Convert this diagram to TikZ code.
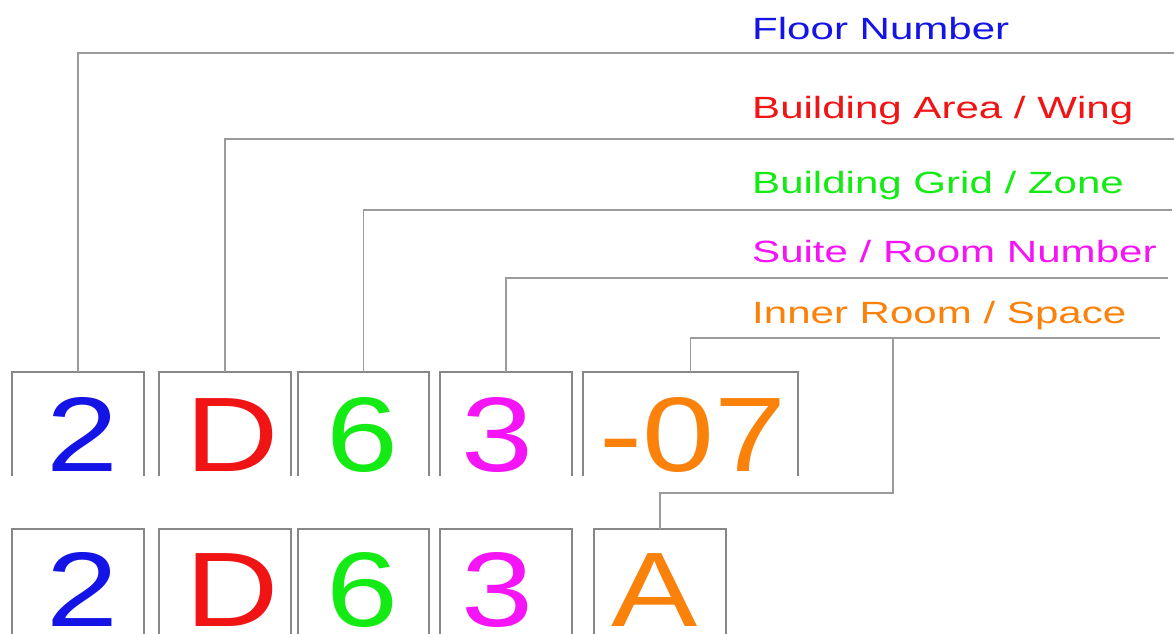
\documentclass[tikz,border=0pt]{standalone}
\usepackage{fontspec}
\setmainfont{Liberation Sans}
\newfontfamily\labfont[FakeStretch=1.37]{Liberation Sans}
\newfontfamily\bigfont[FakeStretch=1.22]{Liberation Sans}
\definecolor{cblue}{RGB}{20,20,230}
\definecolor{cred}{RGB}{240,20,20}
\definecolor{cgreen}{RGB}{20,235,20}
\definecolor{cmag}{RGB}{245,20,245}
\definecolor{corange}{RGB}{250,130,10}
\definecolor{lgray}{RGB}{155,155,155}
\definecolor{bgray}{RGB}{135,135,135}
\tikzset{
  boxnode/.style={draw=none,inner sep=0pt,outer sep=0pt},
  boxline/.style={draw=bgray,line width=1.6pt},
  conn/.style={draw=lgray,line width=1.6pt},
  digit/.style={inner sep=0pt,anchor=base,font=\bigfont\fontsize{106}{110}\selectfont},
  lab/.style={inner sep=0pt,anchor=base west,font=\labfont\fontsize{30.7}{34}\selectfont}
}
\begin{document}
\begin{tikzpicture}[x=1pt,y=-1pt]
\useasboundingbox (0,0) rectangle (1174,633);
\clip (0,0) rectangle (1174,633);
\fill[white] (0,0) rectangle (1174,633);
% top row boxes
\node[boxnode,minimum width=132pt,minimum height=104pt] (b1) at (78,424) {};
\node[boxnode,minimum width=132pt,minimum height=104pt] (b2) at (225,424) {};
\node[boxnode,minimum width=131pt,minimum height=104pt] (b3) at (363.5,424) {};
\node[boxnode,minimum width=132pt,minimum height=104pt] (b4) at (506,424) {};
\node[boxnode,minimum width=215pt,minimum height=104pt] (b5) at (690.5,424) {};
% bottom row boxes
\node[boxnode,minimum width=132pt,minimum height=112pt] (c1) at (78,585) {};
\node[boxnode,minimum width=132pt,minimum height=112pt] (c2) at (225,585) {};
\node[boxnode,minimum width=131pt,minimum height=112pt] (c3) at (363.5,585) {};
\node[boxnode,minimum width=132pt,minimum height=112pt] (c4) at (506,585) {};
\node[boxnode,minimum width=132pt,minimum height=112pt] (c5) at (660,585) {};
\foreach \b in {b1,b2,b3,b4,b5,c1,c2,c3,c4,c5}{
  \draw[boxline] (\b.south west) -- (\b.north west) -- (\b.north east) -- (\b.south east);
}
% digits
\node[digit,text=cblue] (d1) at (82,471) {2};
\node[digit,text=cred] (d2) at (232,471) {D};
\node[digit,text=cgreen] (d3) at (362,471) {6};
\node[digit,text=cmag] (d4) at (497,471) {3};
\node[digit,text=corange] (d5) at (693,471) {-07};
\node[digit,text=cblue] (f1) at (82,626) {2};
\node[digit,text=cred] (f2) at (232,626) {D};
\node[digit,text=cgreen] (f3) at (362,626) {6};
\node[digit,text=cmag] (f4) at (497,626) {3};
\node[digit,text=corange] (f5) at (655,626) {A};
% labels
\node[lab,text=cblue] (l1) at (752,39) {Floor Number};
\node[lab,text=cred] (l2) at (752,118) {Building Area / Wing};
\node[lab,text=cgreen] (l3) at (752,193) {Building Grid / Zone};
\node[lab,text=cmag] (l4) at (752,262) {Suite / Room Number};
\node[lab,text=corange] (l5) at (752,323) {Inner Room / Space};
% line ends
\coordinate (e1) at (1174,53);
\coordinate (e2) at (1174,139);
\coordinate (e3) at (1172,210);
\coordinate (e4) at (1168,278);
\coordinate (e5) at (1160,338);
\coordinate (k1) at (893,338);
\coordinate (k2) at (893,493);
% connectors
\draw[conn] (b1.north) |- (e1);
\draw[conn] (b2.north) |- (e2);
\draw[conn] (b3.north) |- (e3);
\draw[conn] (b4.north) |- (e4);
\draw[conn] (b5.north) |- (e5);
\draw[conn] (k1) -- (k2) -| (c5.north);
\end{tikzpicture}
\end{document}
